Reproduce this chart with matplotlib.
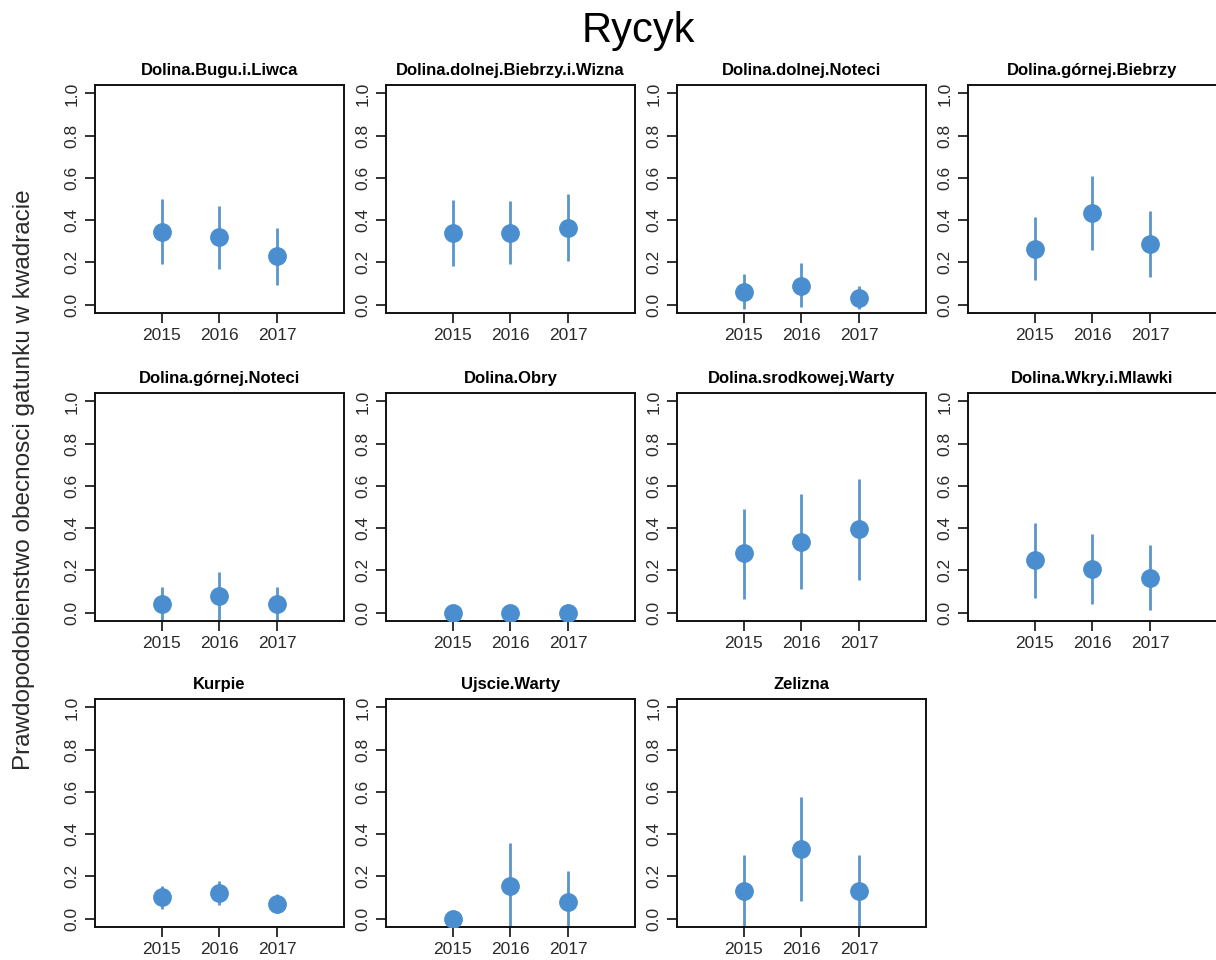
import numpy as np
import matplotlib
matplotlib.use("Agg")
import matplotlib.pyplot as plt

plt.rcParams['font.family'] = ['Liberation Sans', 'DejaVu Sans']

years = [2015, 2016, 2017]

regions = [
    "Dolina.Bugu.i.Liwca", "Dolina.dolnej.Biebrzy.i.Wizna", "Dolina.dolnej.Noteci",
    "Dolina.górnej.Biebrzy", "Dolina.górnej.Noteci", "Dolina.Obry",
    "Dolina.srodkowej.Warty", "Dolina.Wkry.i.Mlawki", "Kurpie",
    "Ujscie.Warty", "Zelizna",
]

# estimated probability and interval bounds per region (2015, 2016, 2017)
mean = [
    [0.345, 0.32, 0.23],
    [0.34, 0.34, 0.365],
    [0.06, 0.09, 0.03],
    [0.265, 0.435, 0.285],
    [0.04, 0.08, 0.04],
    [0.0, 0.0, 0.0],
    [0.28, 0.335, 0.395],
    [0.25, 0.205, 0.165],
    [0.10, 0.12, 0.07],
    [0.0, 0.155, 0.08],
    [0.13, 0.33, 0.13],
]
lower = [
    [0.19, 0.17, 0.095],
    [0.185, 0.19, 0.205],
    [-0.02, -0.01, -0.02],
    [0.115, 0.26, 0.13],
    [-0.06, -0.06, -0.06],
    [0.0, 0.0, 0.0],
    [0.065, 0.11, 0.155],
    [0.07, 0.04, 0.01],
    [0.045, 0.065, 0.025],
    [0.0, -0.06, -0.06],
    [-0.06, 0.085, -0.06],
]
upper = [
    [0.50, 0.465, 0.365],
    [0.495, 0.49, 0.525],
    [0.145, 0.195, 0.09],
    [0.415, 0.61, 0.445],
    [0.12, 0.19, 0.12],
    [0.0, 0.0, 0.0],
    [0.49, 0.56, 0.635],
    [0.425, 0.37, 0.32],
    [0.155, 0.18, 0.115],
    [0.0, 0.36, 0.225],
    [0.30, 0.575, 0.30],
]

W, H = 1216, 960
fig = plt.figure(figsize=(W / 100, H / 100), dpi=100)

col_left = [95, 386, 677, 968]
row_top = [85, 393, 699]
pw, ph = 249, 228

dot_col = "#4A8ECF"
bar_col = "#5B95CA"

for i, name in enumerate(regions):
    r, c = divmod(i, 4)
    x0 = col_left[c] / W
    y0 = 1 - (row_top[r] + ph) / H
    ax = fig.add_axes([x0, y0, pw / W, ph / H])
    ax.vlines(years, lower[i], upper[i], color=bar_col, lw=2.0, zorder=2)
    ax.plot(years, mean[i], 'o', color=dot_col, ms=12.5, mec=dot_col, zorder=3)
    ax.set_xlim(2013.84, 2018.16)
    ax.set_ylim(-0.04, 1.04)
    ax.set_xticks(years)
    ax.set_yticks(np.arange(0, 1.01, 0.2))
    ax.set_yticklabels([f"{v:.1f}" for v in np.arange(0, 1.01, 0.2)],
                       rotation=90, va='center')
    ax.tick_params(direction='out', length=7, width=1.3, labelsize=12.5,
                   color='#222222', labelcolor='#2a2a2a', pad=4)
    for s in ax.spines.values():
        s.set_linewidth(1.4)
        s.set_color('#111111')
    ax.set_title(name, fontsize=12, fontweight='bold', pad=7)

fig.text(0.525, 0.968, "Rycyk", ha='center', va='center', fontsize=30)
fig.text(0.02, 0.5, "Prawdopodobienstwo obecnosci gatunku w kwadracie",
         rotation=90, ha='center', va='center', fontsize=17.5, color='#2a2a2a')

fig.savefig("out.png", dpi=100)
